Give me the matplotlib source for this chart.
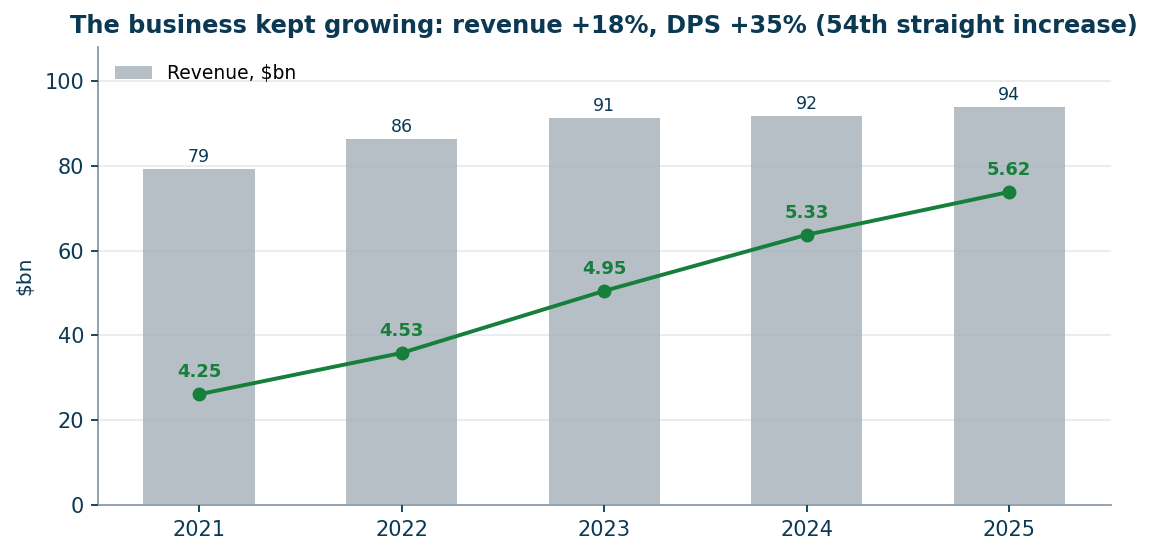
import numpy as np
import matplotlib.pyplot as plt

years = ['2021', '2022', '2023', '2024', '2025']
revenue = [79.3, 86.4, 91.3, 91.8, 93.9]
dps = [4.25, 4.53, 4.95, 5.33, 5.62]

navy = '#0b3954'
bar_col = '#b6bec6'
green = '#157f3b'
spine_col = '#8a99a6'

fig, ax = plt.subplots(figsize=(11.52, 5.55), dpi=100)
fig.subplots_adjust(left=0.085, right=0.964, top=0.915, bottom=0.09)

x = np.arange(len(years))
bars = ax.bar(x, revenue, width=0.55, color=bar_col, label='Revenue, $bn', zorder=1)
for xi, v in zip(x, revenue):
    ax.text(xi, v + 0.6, f'{v:.0f}', ha='center', va='bottom', fontsize=12.5, color=navy)

ax.set_xlim(-0.5, 4.5)
ax.set_ylim(0, max(revenue) * 1.15)
ax.set_xticks(x, years)
ax.set_yticks([0, 20, 40, 60, 80, 100])
ax.set_ylabel('$bn', fontsize=14.5, color=navy, labelpad=7)
ax.tick_params(colors=navy, labelsize=15, length=5, width=1.3)
ax.tick_params(axis='x', pad=5.5)
ax.tick_params(axis='y', pad=5)
ax.grid(axis='y', color='#a9b8c4', alpha=0.3, linewidth=1.2, zorder=2)
ax.set_axisbelow(False)
for s in ['top', 'right']:
    ax.spines[s].set_visible(False)
for s in ['left', 'bottom']:
    ax.spines[s].set_color(spine_col)
    ax.spines[s].set_linewidth(1.3)

ax.legend(loc='upper left', frameon=False, fontsize=13.5)

# DPS on a hidden second axis
ax2 = ax.twinx()
ax2.plot(x, dps, color=green, linewidth=2.8, marker='o', markersize=9, zorder=5)
ax2.set_ylim(3.5, 6.6)
ax2.axis('off')
for xi, v in zip(x, dps):
    ax2.annotate(f'{v:.2f}', (xi, v), xytext=(0, 9.5), textcoords='offset points',
                 ha='center', va='bottom', fontsize=13, fontweight='bold', color=green)

ax.set_title('The business kept growing: revenue +18%, DPS +35% (54th straight increase)',
             fontsize=17.3, fontweight='bold', color=navy, pad=10)

fig.savefig('out.png')
